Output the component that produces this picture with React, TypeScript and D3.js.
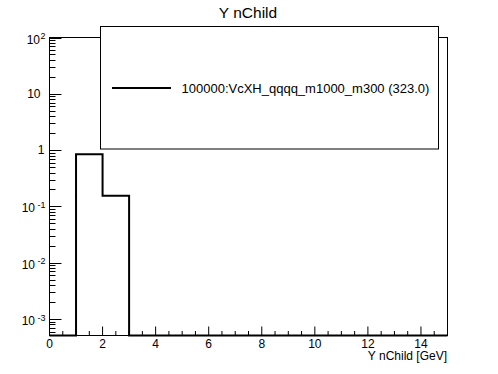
import React from "react";
import * as d3 from "d3";

// ---- data ----
const binLow = [0, 1, 2, 3, 4, 5, 6, 7, 8, 9, 10, 11, 12, 13, 14];
const binValues = [0, 0.845, 0.155, 0, 0, 0, 0, 0, 0, 0, 0, 0, 0, 0, 0];
const xTickValues = [0, 2, 4, 6, 8, 10, 12, 14];
const xTickLabels = ["0", "2", "4", "6", "8", "10", "12", "14"];
const yTickValues = [1e-3, 1e-2, 1e-1, 1, 10, 100];
const yTickBases = ["10", "10", "10", "1", "10", "10"];
const yTickExps = ["-3", "-2", "-1", "", "", "2"];
const titleText = "Y nChild";
const xTitle = "Y nChild [GeV]";
const legendLabel = "100000:VcXH_qqqq_m1000_m300 (323.0)";

const W = 498;
const H = 374;
const FONT = "'Liberation Sans', Arial, Helvetica, sans-serif";

export default function App() {
  const left = 49.5, right = 447.5, top = 37.5, bottom = 335.5;
  const xMin = 0, xMax = 15, yMin = 5.1e-4, yMax = 100;
  const x = d3.scaleLinear().domain([xMin, xMax]).range([left, right]);
  const y = d3.scaleLog().domain([yMin, yMax]).range([bottom, top]);

  const pts: [number, number][] = binLow.map((lo, i) => [lo, Math.max(binValues[i], yMin)]);
  pts.push([xMax, Math.max(binValues[binValues.length - 1], yMin)]);
  const line = d3
    .line<[number, number]>()
    .x((d) => x(d[0]))
    .y((d) => Math.min(y(d[1]), bottom))
    .curve(d3.curveStepAfter);

  const xMinor = d3.range(xMin, xMax + 0.001, 0.5).filter((v) => !xTickValues.includes(v));
  const yMinor: number[] = [];
  for (let e = -4; e <= 1; e++) {
    for (let m = 2; m <= 9; m++) {
      const v = m * Math.pow(10, e);
      if (v >= yMin && v <= yMax) yMinor.push(v);
    }
  }

  const majorX = 9, minorX = 4.5, majorY = 12, minorY = 6;

  return (
    <svg
      width={W}
      height={H}
      style={{ position: "absolute", left: 0, top: 0, background: "#fff" }}
      fontFamily={FONT}
    >
      <rect x={0} y={0} width={W} height={H} fill="#fff" />
      {/* frame */}
      <rect x={left} y={top} width={right - left} height={bottom - top} fill="none" stroke="#000" strokeWidth={1} />
      {/* x ticks */}
      {xTickValues.map((v) => (
        <line key={"xt" + v} x1={x(v)} x2={x(v)} y1={bottom} y2={bottom - majorX} stroke="#000" strokeWidth={1} />
      ))}
      {xMinor.map((v) => (
        <line key={"xm" + v} x1={x(v)} x2={x(v)} y1={bottom} y2={bottom - minorX} stroke="#000" strokeWidth={1} />
      ))}
      {xTickValues.map((v, i) => (
        <text key={"xl" + v} x={x(v)} y={347.5} fontSize={12} textAnchor="middle" fill="#000">
          {xTickLabels[i]}
        </text>
      ))}
      <text x={447} y={360} fontSize={12} textAnchor="end" fill="#000">
        {xTitle}
      </text>
      {/* y ticks */}
      {yTickValues.map((v) => (
        <line key={"yt" + v} x1={left} x2={left + majorY} y1={Math.round(y(v)) + 0.5} y2={Math.round(y(v)) + 0.5} stroke="#000" strokeWidth={1} />
      ))}
      {yMinor.map((v) => (
        <line key={"ym" + v} x1={left} x2={left + minorY} y1={Math.round(y(v)) + 0.5} y2={Math.round(y(v)) + 0.5} stroke="#000" strokeWidth={1} />
      ))}
      {yTickValues.map((v, i) => {
        const ty = y(v);
        const exp = yTickExps[i];
        if (exp) {
          return (
            <g key={"yl" + v}>
              <text x={45.5} y={ty + 1.5} fontSize={9} textAnchor="end" fill="#000">
                {exp}
              </text>
              <text x={45.5 - exp.length * 5 - 0.5} y={ty + 6} fontSize={12} textAnchor="end" fill="#000">
                {yTickBases[i]}
              </text>
            </g>
          );
        }
        const base = yTickBases[i];
        return (
          <text key={"yl" + v} x={base.length > 1 ? 40.5 : 44.5} y={ty + 4.3} fontSize={12} textAnchor="end" fill="#000">
            {base}
          </text>
        );
      })}
      {/* histogram */}
      <path d={line(pts) || ""} fill="none" stroke="#000" strokeWidth={2} />
      {/* legend */}
      <rect x={100.5} y={26.5} width={338} height={122.5} fill="#fff" stroke="#000" strokeWidth={1} />
      <line x1={112} x2={171} y1={88} y2={88} stroke="#000" strokeWidth={2} />
      <text x={181.5} y={92.5} fontSize={13} fill="#000">
        {legendLabel}
      </text>
      {/* title */}
      <text x={248} y={18.3} fontSize={15.5} textAnchor="middle" fill="#000">
        {titleText}
      </text>
    </svg>
  );
}
